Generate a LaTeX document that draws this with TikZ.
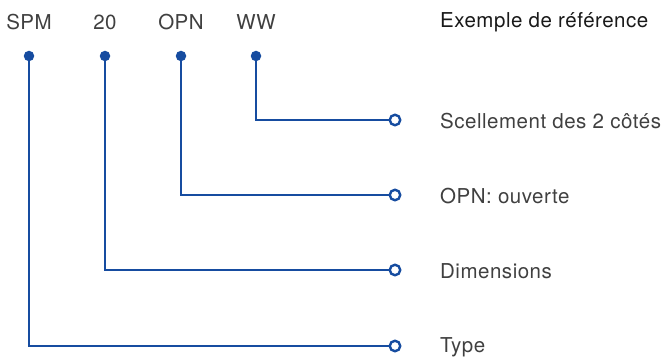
\documentclass[tikz,border=0pt]{standalone}
\usepackage{fontspec}
\setmainfont{TeX Gyre Heros}[LetterSpace=2.5]
\definecolor{lineblue}{RGB}{22,76,160}
\definecolor{txtgray}{RGB}{64,64,64}
\definecolor{txtdark}{RGB}{25,25,25}
\begin{document}
\begin{tikzpicture}[x=1pt,y=-1pt,
  code/.style={font=\fontsize{20.5}{23}\selectfont, text=txtgray, inner sep=0pt},
  lbl/.style={font=\fontsize{20.5}{23}\selectfont, text=txtgray, anchor=west, inner sep=0pt},
  conn/.style={draw=lineblue, line width=2.8pt},
  dot/.style={circle, fill=lineblue, minimum size=10.5pt, inner sep=0pt},
  ring/.style={circle, draw=lineblue, fill=white, line width=2.4pt, minimum size=10.5pt, inner sep=0pt}]
\useasboundingbox (0,0) rectangle (667,358);
% codes
\node[code] (tSPM) at (29,22) {SPM};
\node[code] (t20) at (105,22) {20};
\node[code] (tOPN) at (181,22) {OPN};
\node[code] (tWW) at (256,22) {WW};
\node[lbl, text=txtdark] (ex) at (440,22) {Exemple de référence};
% dots
\coordinate (dSPM) at (29,56);
\coordinate (d20) at (105,56);
\coordinate (dOPN) at (181,56);
\coordinate (dWW) at (256,56);
% rings
\coordinate (rWW) at (395,120);
\coordinate (rOPN) at (395,195);
\coordinate (r20) at (395,270);
\coordinate (rSPM) at (395,346);
% connectors
\draw[conn] (dWW) |- (rWW);
\draw[conn] (dOPN) |- (rOPN);
\draw[conn] (d20) |- (r20);
\draw[conn] (dSPM) |- (rSPM);
\foreach \n in {SPM,20,OPN,WW}{
  \node[dot] at (d\n) {};
  \node[ring] at (r\n) {};
}
% labels
\node[lbl] (lWW) at (440,121) {Scellement des 2 côtés};
\node[lbl] (lOPN) at (440,196) {OPN: ouverte};
\node[lbl] (l20) at (440,271) {Dimensions};
\node[lbl] (lSPM) at (440,347) {Type};
\end{tikzpicture}
\end{document}
